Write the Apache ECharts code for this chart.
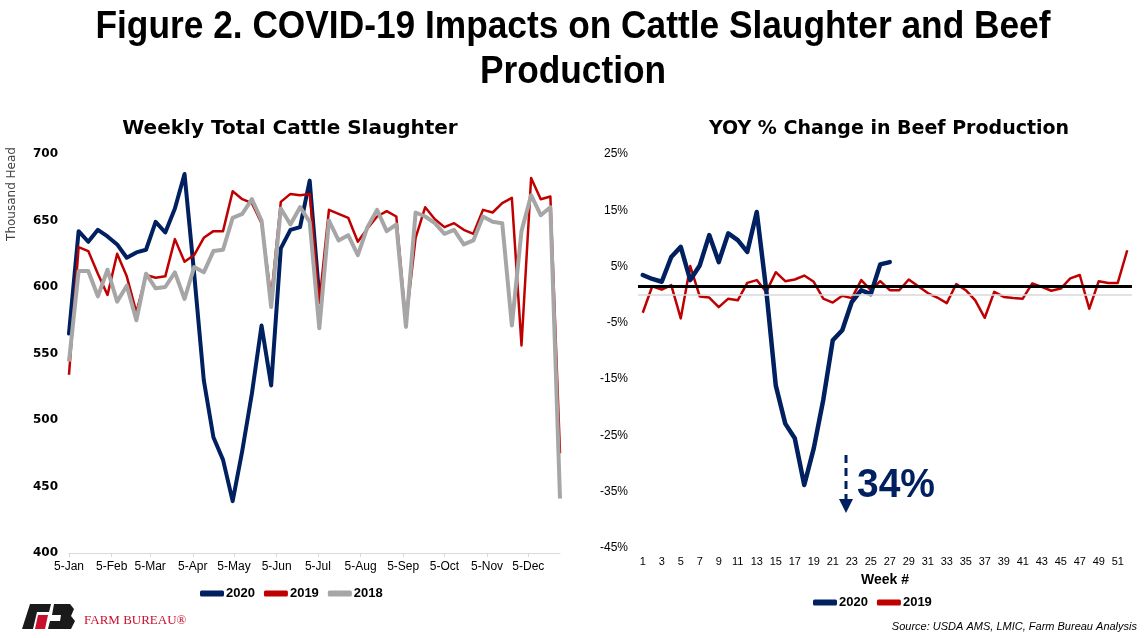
<!DOCTYPE html>
<html>
<head>
<meta charset="utf-8">
<script src="https://cdn.jsdelivr.net/npm/echarts@6/dist/echarts.min.js"></script>
<style>
html,body{margin:0;padding:0;background:#fff;}
#c{width:1146px;height:638px;}
</style>
</head>
<body>
<div id="c"></div>
<script>
// ---------- DATA ----------
const monthNames = ['Jan','Feb','Mar','Apr','May','Jun','Jul','Aug','Sep','Oct','Nov','Dec'];
const firstWeek = [2019, 0, 5];   // weekly observations, first week
const weekCount = 52;

const slaughter2020 = [565,642,634,643,638,632,622,626,628,649,641,659,685,610,530,487,470,439,477,520,571,526,629,643,645,680,592];
const slaughter2019 = [534,630,627,610,594,625,608,581,609,607,608,636,619,624,637,642,642,672,666,663,648,592,664,670,669,670,588,658,655,652,634,644,653,657,653,573,637,660,651,645,648,643,640,658,656,663,667,556,682,666,668,475];
const slaughter2018 = [544,612,612,593,613,589,601,575,610,599,600,611,591,615,611,627,628,652,655,666,650,585,659,647,660,649,569,650,635,639,624,645,658,642,647,570,656,653,648,640,643,632,635,653,649,648,571,642,669,654,660,441];

const weekNumbers = Array.from({length: 52}, (_, i) => String(i + 1));
const yoy2020 = [3.5,2.8,2.3,6.7,8.5,2.6,5.2,10.6,5.8,10.9,9.7,7.6,14.7,0.8,-16.1,-22.9,-25.5,-33.8,-27.3,-18.7,-8.1,-6.3,-1.3,0.8,0.1,5.4,5.8];
const yoy2019 = [-3.2,1.5,0.9,1.7,-4.2,5.1,-0.3,-0.5,-2.2,-0.7,-1.0,2.1,2.6,0.5,4.0,2.4,2.7,3.4,2.3,-0.7,-1.4,-0.2,-0.6,2.6,0.8,2.4,0.8,0.8,2.7,1.5,0.3,-0.5,-1.5,1.9,0.8,-1.0,-4.1,0.5,-0.4,-0.6,-0.7,2.0,1.4,0.7,1.1,2.9,3.5,-2.5,2.4,2.1,2.1,7.9];
const referenceLine = 1.5;
const dropLabel = '34%';
const titleLines = ['Figure 2. COVID-19 Impacts on Cattle Slaughter and Beef', 'Production'];

// ---------- HELPERS ----------
const weekDates = Array.from({length: weekCount}, (_, i) =>
  new Date(firstWeek[0], firstWeek[1], firstWeek[2] + 7 * i).getTime());
const monthTicks = monthNames.map((_, m) => new Date(firstWeek[0], m, 5).getTime());
const pair = (vals) => vals.map((v, i) => [weekDates[i], v]);

const NAVY = '#002060', RED = '#C00000', GRAY = '#A6A6A6';
const SANS = '"Liberation Sans", Arial, sans-serif';
const TITLE_FONT = 'bold 38px "Liberation Sans", Arial, sans-serif';
const measureCtx = document.createElement('canvas').getContext('2d');
measureCtx.font = TITLE_FONT;
const titleScale = 955 / measureCtx.measureText(titleLines[0]).width;
measureCtx.font = 'bold 40px "Liberation Sans", Arial, sans-serif';
const pctScale = 78 / measureCtx.measureText(dropLabel).width;

const chart = echarts.init(document.getElementById('c'), null, {renderer: 'canvas'});

chart.setOption({
  backgroundColor: '#fff',
  animation: false,
  title: [
    {text: 'Weekly Total Cattle Slaughter', left: 285, top: 114, textAlign: 'center',
     textStyle: {fontFamily: '"DejaVu Sans", sans-serif', fontWeight: 'bold', fontSize: 20, color: '#000'}},
    {text: 'YOY % Change in Beef Production', left: 884, top: 115, textAlign: 'center',
     textStyle: {fontFamily: '"DejaVu Sans", sans-serif', fontWeight: 'bold', fontSize: 19, color: '#000'}}
  ],
  legend: [
    {data: ['2020', '2019', '2018'], left: 195, top: 582, itemWidth: 24, itemHeight: 6, itemGap: 9, icon: 'roundRect',
     textStyle: {fontFamily: SANS, fontWeight: 'bold', fontSize: 13, color: '#000', padding: [0, 0, 0, -3]}},
    {data: ['2020', '2019'], left: 808, top: 591, itemWidth: 24, itemHeight: 6, itemGap: 9, icon: 'roundRect',
     textStyle: {fontFamily: SANS, fontWeight: 'bold', fontSize: 13, color: '#000', padding: [0, 0, 0, -3]}}
  ],
  grid: [
    {left: 69, top: 154, width: 491, height: 399},
    {left: 638, top: 154, width: 494, height: 394}
  ],
  xAxis: [
    {type: 'value', gridIndex: 0, min: weekDates[0], max: weekDates[weekCount - 1], scale: true,
     axisLine: {show: true, lineStyle: {color: '#D9D9D9', width: 1}},
     axisTick: {show: true, length: 4, lineStyle: {color: '#D9D9D9'}, customValues: monthTicks},
     axisLabel: {customValues: monthTicks, margin: 8, fontFamily: SANS, fontSize: 12, color: '#000',
       formatter: (v) => { const d = new Date(v); return d.getDate() + '-' + monthNames[d.getMonth()]; }},
     splitLine: {show: false}},
    {type: 'category', gridIndex: 1, data: weekNumbers, boundaryGap: true,
     axisLine: {show: false}, axisTick: {show: false},
     axisLabel: {interval: 1, margin: 8, fontFamily: SANS, fontSize: 11, color: '#000'},
     name: 'Week #', nameLocation: 'middle', nameGap: 25,
     nameTextStyle: {fontFamily: SANS, fontWeight: 'bold', fontSize: 14, color: '#000'}}
  ],
  yAxis: [
    {type: 'value', gridIndex: 0, min: 400, max: 700, interval: 50,
     axisLine: {show: false}, axisTick: {show: false}, splitLine: {show: false},
     axisLabel: {margin: 11, fontFamily: '"DejaVu Sans", sans-serif', fontWeight: 'bold', fontSize: 12, color: '#000'}},
    {type: 'value', gridIndex: 1, min: -45, max: 25, interval: 10,
     axisLine: {show: false}, axisTick: {show: false}, splitLine: {show: false},
     axisLabel: {margin: 10, formatter: '{value}%', fontFamily: SANS, fontSize: 12, color: '#000'}}
  ],
  series: [
    {name: '2020', type: 'line', xAxisIndex: 0, yAxisIndex: 0, data: pair(slaughter2020), symbol: 'none',
     lineStyle: {color: NAVY, width: 4, cap: 'round', join: 'round'}, itemStyle: {color: NAVY}},
    {name: '2019', type: 'line', xAxisIndex: 0, yAxisIndex: 0, data: pair(slaughter2019), symbol: 'none',
     lineStyle: {color: RED, width: 2.5, join: 'round'}, itemStyle: {color: RED}},
    {name: '2018', type: 'line', xAxisIndex: 0, yAxisIndex: 0, data: pair(slaughter2018), symbol: 'none',
     lineStyle: {color: GRAY, width: 4, join: 'round'}, itemStyle: {color: GRAY}},
    {name: '2020', type: 'line', xAxisIndex: 1, yAxisIndex: 1, data: yoy2020, symbol: 'none', z: 3,
     lineStyle: {color: NAVY, width: 4.5, cap: 'round', join: 'round'}, itemStyle: {color: NAVY},
     markLine: {silent: true, symbol: 'none', label: {show: false},
       data: [
         {yAxis: 0, lineStyle: {color: '#D9D9D9', width: 1.5, type: 'solid'}},
         {yAxis: referenceLine, lineStyle: {color: '#000', width: 3, type: 'solid'}}
       ]}},
    {name: '2019', type: 'line', xAxisIndex: 1, yAxisIndex: 1, data: yoy2019, symbol: 'none', z: 2,
     lineStyle: {color: RED, width: 2.5, join: 'round'}, itemStyle: {color: RED}}
  ],
  graphic: [
    {type: 'text', x: 573, y: 28, scaleX: titleScale,
     style: {text: titleLines[0], fill: '#000', font: TITLE_FONT, align: 'center', verticalAlign: 'middle'}},
    {type: 'text', x: 573, y: 73, scaleX: titleScale,
     style: {text: titleLines[1], fill: '#000', font: TITLE_FONT, align: 'center', verticalAlign: 'middle'}},
    {type: 'text', x: 12, y: 194, rotation: Math.PI / 2,
     style: {text: 'Thousand Head', fill: '#404040', font: '12px "DejaVu Sans", sans-serif', align: 'center', verticalAlign: 'middle'}},
    {type: 'line', shape: {x1: 846, y1: 455, x2: 846, y2: 500},
     style: {stroke: NAVY, lineWidth: 3, lineDash: [8, 5]}},
    {type: 'polygon', shape: {points: [[839, 499], [853, 499], [846, 513]]}, style: {fill: NAVY}},
    {type: 'text', x: 857, y: 486, scaleX: pctScale,
     style: {text: dropLabel, fill: NAVY, font: 'bold 40px "Liberation Sans", Arial, sans-serif', verticalAlign: 'middle'}},
    {type: 'polygon', shape: {points: [[30, 604], [51, 604], [49, 612], [37, 612], [33, 629], [22, 629]]}, style: {fill: '#1a1a1a'}},
    {type: 'polygon', shape: {points: [[38, 615], [48, 615], [45, 629], [35, 629]]}, style: {fill: '#C8102E'}},
    {type: 'polygon', shape: {points: [[54, 604], [70, 604], [74, 609], [71, 616], [75, 621], [71, 629], [48, 629], [50, 621], [60, 621], [61, 615], [52, 615]]}, style: {fill: '#1a1a1a'}},
    {type: 'text', x: 84, y: 621,
     style: {text: 'FARM BUREAU®', fill: '#C8102E', font: '13px "Liberation Serif", serif', verticalAlign: 'middle'}},
    {type: 'text', x: 1137, y: 627,
     style: {text: 'Source: USDA AMS, LMIC, Farm Bureau Analysis', fill: '#000', font: 'italic 11px "Liberation Sans", Arial, sans-serif', align: 'right', verticalAlign: 'middle'}}
  ]
});
</script>
</body>
</html>
